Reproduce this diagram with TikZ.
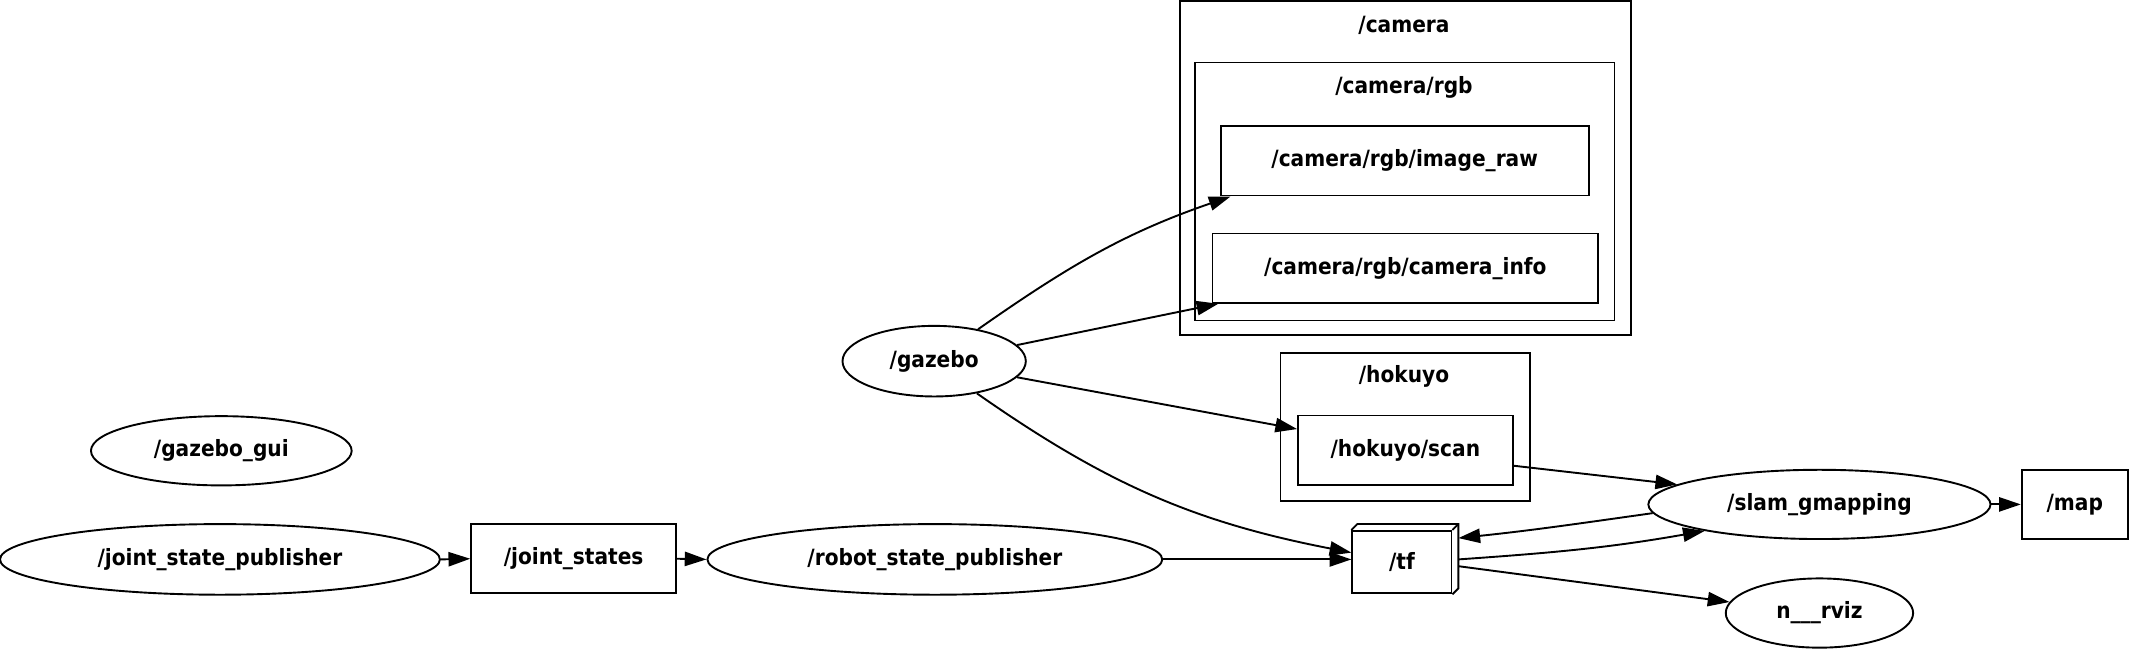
\documentclass[tikz,border=0pt]{standalone}
\usepackage{fontspec}
\setmainfont{DejaVu Sans Condensed}
\usetikzlibrary{shapes.geometric,arrows.meta}
\begin{document}
\begin{tikzpicture}[x=1pt,y=-1pt,
  every node/.style={font=\fontsize{16.5}{19}\selectfont\bfseries},
  lw/.style={line width=1.4pt},
  nodeell/.style={ellipse, draw, lw, inner sep=0pt},
  topic/.style={rectangle, draw, lw, inner sep=0pt},
  cluster/.style={draw, line width=1.3pt},
  edge/.style={lw, -{Triangle[length=16pt,width=10.5pt]}},
  ]
\useasboundingbox (0,0) rectangle (1568,478);
% clusters
\draw[cluster] (869,1) rectangle (1201,247);
\node (lcam) at (1034,18.5) {/camera};
\draw[cluster] (880,46) rectangle (1189,236);
\node (lrgb) at (1034,64.5) {/camera/rgb};
\draw[cluster] (943,260) rectangle (1127,369);
\node (lhok) at (1034,277.5) {/hokuyo};
% nodes
\node[nodeell, minimum width=135pt, minimum height=52pt] (gazebo) at (688,266) {/gazebo};
\node[nodeell, minimum width=192pt, minimum height=51pt] (gui) at (163,332) {/gazebo\_gui};
\node[nodeell, minimum width=324pt, minimum height=52pt] (jsp) at (162,412) {/joint\_state\_publisher};
\node[topic, minimum width=151pt, minimum height=51pt] (js) at (422.5,411.5) {/joint\_states};
\node[nodeell, minimum width=335pt, minimum height=52pt] (rsp) at (688.5,412) {/robot\_state\_publisher};
\node[topic, minimum width=271pt, minimum height=51pt] (raw) at (1034.5,118.5) {/camera/rgb/image\_raw};
\node[topic, minimum width=284pt, minimum height=51pt] (info) at (1035,197.5) {/camera/rgb/camera\_info};
\node[topic, minimum width=158pt, minimum height=51pt] (scan) at (1035,331.5) {/hokuyo/scan};
\node[nodeell, minimum width=252pt, minimum height=51pt] (slam) at (1340,371.5) {/slam\_gmapping};
\node[topic, minimum width=78pt, minimum height=51pt] (map) at (1528,371.5) {/map};
\node[nodeell, minimum width=138pt, minimum height=51pt] (rviz) at (1340,451.5) {n\_\_\_rviz};
\node[topic, minimum width=73pt, minimum height=46pt] (tf) at (1032.5,414) {/tf};
\draw[lw, line join=miter] (tf.north west) -- ++(4.4,-4.4) -- ([xshift=4.4pt,yshift=4.4pt]tf.north east)
  -- ([xshift=4.4pt,yshift=4.4pt]tf.south east) -- (tf.south east);
\draw[lw] (tf.north east) -- ++(4.4,-4.4);
% edges
\draw[edge] (gazebo.36) to[out=35,in=199] ([xshift=8pt]raw.south west);
\draw[edge] (gazebo.11) -- ([xshift=5pt]info.south west);
\draw[edge] (gazebo.-11) -- ([yshift=15.5pt]scan.west);
\draw[edge] (gazebo.-37) to[out=-35,in=169] ([yshift=7pt]tf.west);
\draw[edge] (jsp.east) -- (js.west);
\draw[edge] (js.east) -- (rsp.west);
\draw[edge] (rsp.east) -- (rsp.east -| tf.west);
\draw[edge] ([yshift=-11.5pt]scan.east) -- (slam.172);
\draw[edge] (slam.183) to[out=188,in=6] ([xshift=4.4pt,yshift=-6pt]tf.north east);
\draw[edge] ([xshift=4.4pt,yshift=2pt]tf.east) to[out=4,in=190] (slam.193);
\draw[edge] (slam.east) -- (map.west);
\draw[edge] ([xshift=4.4pt,yshift=-3pt]tf.east) -- (rviz.173);
\end{tikzpicture}
\end{document}
